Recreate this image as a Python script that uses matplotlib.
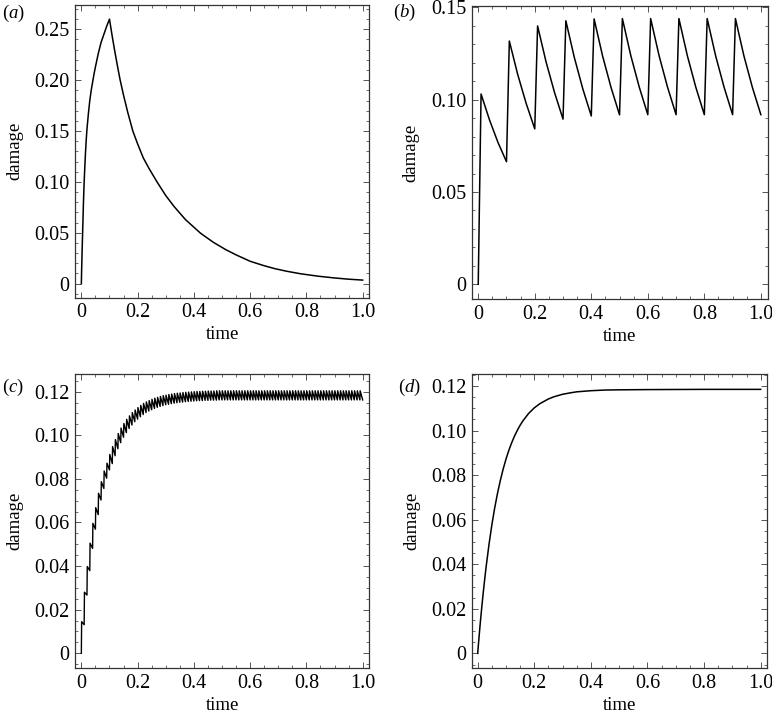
import numpy as np
import matplotlib
matplotlib.use('Agg')
import matplotlib.pyplot as plt
from matplotlib.ticker import MultipleLocator

plt.rcParams['font.family'] = ['Liberation Serif', 'DejaVu Serif']
plt.rcParams['mathtext.fontset'] = 'custom'
plt.rcParams['mathtext.it'] = 'Liberation Serif:italic'
plt.rcParams['mathtext.rm'] = 'Liberation Serif'

# (a) single dose
a_time = [0, 0.001, 0.0025, 0.005, 0.0075, 0.01, 0.0125, 0.015, 0.0175, 0.02, 0.025,
          0.03, 0.035, 0.04, 0.045, 0.05, 0.06, 0.07, 0.08, 0.09, 0.1,
          0.11, 0.12, 0.13, 0.138, 0.15, 0.165, 0.183, 0.2, 0.22, 0.24, 0.269,
          0.3, 0.33, 0.37, 0.424, 0.47, 0.513, 0.55, 0.6, 0.65, 0.69, 0.73, 0.78,
          0.84, 0.9, 0.95, 1.0]
a_damage = [0, 0.013, 0.03, 0.055, 0.08, 0.10, 0.116, 0.13, 0.142, 0.152, 0.167,
            0.18, 0.19, 0.198, 0.206, 0.213, 0.226, 0.237, 0.245, 0.253, 0.26,
            0.2427, 0.2266, 0.2115, 0.20, 0.1852, 0.1683, 0.15, 0.1374, 0.1237, 0.1135, 0.10,
            0.0866, 0.0757, 0.063, 0.0495, 0.0405, 0.0335, 0.0283, 0.022, 0.0176, 0.0146,
            0.0122, 0.0097, 0.0074, 0.0056, 0.0044, 0.0035]

# (b) ten doses
b_time = [0, 0.01, 0.04, 0.07, 0.1,
          0.11, 0.14, 0.17, 0.2,
          0.21, 0.24, 0.27, 0.3,
          0.31, 0.34, 0.37, 0.4,
          0.41, 0.44, 0.47, 0.5,
          0.51, 0.54, 0.57, 0.6,
          0.61, 0.64, 0.67, 0.7,
          0.71, 0.74, 0.77, 0.8,
          0.81, 0.84, 0.87, 0.9,
          0.91, 0.94, 0.97, 1.0]
b_damage = [0, 0.1031, 0.0890, 0.0768, 0.0664,
            0.1318, 0.1135, 0.0978, 0.0842,
            0.1400, 0.1205, 0.1039, 0.0895,
            0.1428, 0.1229, 0.1059, 0.0912,
            0.1438, 0.1237, 0.1066, 0.0918,
            0.1440, 0.1238, 0.1067, 0.0919,
            0.1440, 0.1238, 0.1067, 0.0919,
            0.1440, 0.1238, 0.1067, 0.0919,
            0.1440, 0.1238, 0.1067, 0.0919,
            0.1440, 0.1238, 0.1067, 0.0919]

# (c) hundred doses: dose times, peak after each dose, trough before the next
c_dose = np.round(np.arange(100) * 0.01, 2)
c_peak = [0.0145, 0.0280, 0.0398, 0.0505, 0.0596, 0.0668, 0.0734, 0.0787, 0.0836, 0.0872,
          0.0912, 0.0948, 0.0980, 0.1008, 0.1033, 0.1054, 0.1073, 0.1089, 0.1104, 0.1116,
          0.1127, 0.1137, 0.1146, 0.1153, 0.1159, 0.1165, 0.1170, 0.1174, 0.1178, 0.1182,
          0.1184, 0.1187, 0.1189, 0.1191, 0.1193, 0.1194, 0.1196, 0.1197, 0.1198, 0.1199,
          0.1200, 0.1201, 0.1201, 0.1202, 0.1202, 0.1203, 0.1203, 0.1203, 0.1204, 0.1204,
          0.1204, 0.1204, 0.1204, 0.1204, 0.1204, 0.1204, 0.1204, 0.1204, 0.1204, 0.1204,
          0.1204, 0.1204, 0.1204, 0.1204, 0.1204, 0.1204, 0.1204, 0.1204, 0.1204, 0.1204,
          0.1204, 0.1204, 0.1204, 0.1204, 0.1204, 0.1204, 0.1204, 0.1204, 0.1204, 0.1204,
          0.1204, 0.1204, 0.1204, 0.1204, 0.1204, 0.1204, 0.1204, 0.1204, 0.1204, 0.1204,
          0.1204, 0.1204, 0.1204, 0.1204, 0.1204, 0.1204, 0.1204, 0.1204, 0.1204, 0.1204]
c_trough = [0.0131, 0.0267, 0.0379, 0.0481, 0.0569, 0.0636, 0.0703, 0.0756, 0.0803, 0.0841,
            0.0870, 0.0906, 0.0938, 0.0966, 0.0991, 0.1012, 0.1031, 0.1047, 0.1062, 0.1074,
            0.1085, 0.1095, 0.1104, 0.1111, 0.1117, 0.1123, 0.1128, 0.1132, 0.1136, 0.1140,
            0.1142, 0.1145, 0.1147, 0.1149, 0.1151, 0.1152, 0.1154, 0.1155, 0.1156, 0.1157,
            0.1158, 0.1159, 0.1159, 0.1160, 0.1160, 0.1161, 0.1161, 0.1161, 0.1162, 0.1162,
            0.1162, 0.1162, 0.1162, 0.1162, 0.1162, 0.1162, 0.1162, 0.1162, 0.1162, 0.1162,
            0.1162, 0.1162, 0.1162, 0.1162, 0.1162, 0.1162, 0.1162, 0.1162, 0.1162, 0.1162,
            0.1162, 0.1162, 0.1162, 0.1162, 0.1162, 0.1162, 0.1162, 0.1162, 0.1162, 0.1162,
            0.1162, 0.1162, 0.1162, 0.1162, 0.1162, 0.1162, 0.1162, 0.1162, 0.1162, 0.1162,
            0.1162, 0.1162, 0.1162, 0.1162, 0.1162, 0.1162, 0.1162, 0.1162, 0.1162, 0.1162]

# (d) continuous
d_time = [0, 0.005, 0.01, 0.015, 0.02, 0.025, 0.03, 0.04, 0.05, 0.06, 0.07, 0.08, 0.09,
          0.10, 0.11, 0.12, 0.13, 0.14, 0.15, 0.16, 0.18, 0.20, 0.22, 0.25, 0.27,
          0.30, 0.33, 0.35, 0.40, 0.45, 0.50, 0.60, 0.80, 1.0]
d_damage = [0, 0.0076, 0.0148, 0.0214, 0.0277, 0.0335, 0.0390, 0.0489, 0.0576, 0.0652,
            0.0718, 0.0776, 0.0827, 0.0872, 0.0911, 0.0945, 0.0975, 0.1001, 0.1024, 0.1044,
            0.1077, 0.1102, 0.1121, 0.1142, 0.1152, 0.1163, 0.1170, 0.1174, 0.1179, 0.1182,
            0.1183, 0.1184, 0.1185, 0.1185]

x_ticks = [0, 0.2, 0.4, 0.6, 0.8, 1.0]
x_labels = ['0', '0.2', '0.4', '0.6', '0.8', '1.0']

W, H = 772, 715
fig = plt.figure(figsize=(W / 100, H / 100), dpi=100)


def box(l, t, r, b):
    return [l / W, 1 - b / H, (r - l) / W, (b - t) / H]


def style(ax, xlim, ylim, yticks, ylabels, yminor):
    ax.set_xlim(*xlim)
    ax.set_ylim(*ylim)
    ax.set_xticks(x_ticks)
    ax.set_xticklabels(x_labels)
    ax.set_yticks(yticks)
    ax.set_yticklabels(ylabels)
    ax.xaxis.set_minor_locator(MultipleLocator(0.05))
    ax.yaxis.set_minor_locator(MultipleLocator(yminor))
    ax.tick_params(which='both', direction='in', top=True, right=True,
                   labelsize=14.5, color='#555555', pad=4)
    ax.tick_params(which='major', length=4.5, width=0.7)
    ax.tick_params(which='minor', length=2.2, width=0.6)
    for s in ax.spines.values():
        s.set_linewidth(0.9)
        s.set_color('#333333')
    ax.set_xlabel('time', fontsize=13.5)
    ax.set_ylabel('damage', fontsize=13.5)
    ax.xaxis.set_label_coords(0.5, -0.098)
    ax.yaxis.set_label_coords(-0.178, 0.5)


ax_a = fig.add_axes(box(75.3, 4.7, 369.3, 297.7))
ax_a.plot(a_time, a_damage, color='black', lw=1.1)
style(ax_a, (-0.0215, 1.0235), (-0.0138, 0.2742),
      [0, 0.05, 0.10, 0.15, 0.20, 0.25], ['0', '0.05', '0.10', '0.15', '0.20', '0.25'], 0.01)

ax_b = fig.add_axes(box(472.3, 6, 767.5, 299))
ax_b.plot(b_time, b_damage, color='black', lw=1.1)
style(ax_b, (-0.021, 1.0235), (-0.008, 0.1508),
      [0, 0.05, 0.10, 0.15], ['0', '0.05', '0.10', '0.15'], 0.01)

c_t, c_y = [0.0], [0.0]
for i in range(len(c_dose)):
    c_t += [c_dose[i] + 0.001, c_dose[i] + 0.01]
    c_y += [c_peak[i], c_trough[i]]
ax_c = fig.add_axes(box(75.3, 374, 369.3, 668.3))
ax_c.plot(c_t, c_y, color='black', lw=1.0)
style(ax_c, (-0.0215, 1.0235), (-0.0069, 0.1281),
      [0, 0.02, 0.04, 0.06, 0.08, 0.10, 0.12],
      ['0', '0.02', '0.04', '0.06', '0.08', '0.10', '0.12'], 0.005)

ax_d = fig.add_axes(box(472.3, 374, 766.7, 668.3))
ax_d.plot(d_time, d_damage, color='black', lw=1.1)
style(ax_d, (-0.019, 1.0212), (-0.0067, 0.1254),
      [0, 0.02, 0.04, 0.06, 0.08, 0.10, 0.12],
      ['0', '0.02', '0.04', '0.06', '0.08', '0.10', '0.12'], 0.005)

for lab, x, y in [('a', 2, 13), ('b', 393, 12), ('c', 2, 387), ('d', 398, 387)]:
    fig.text(x / W, 1 - y / H, '($\\mathit{' + lab + '}$)', fontsize=13.5, va='center', ha='left')

fig.savefig('out.png', dpi=100)
